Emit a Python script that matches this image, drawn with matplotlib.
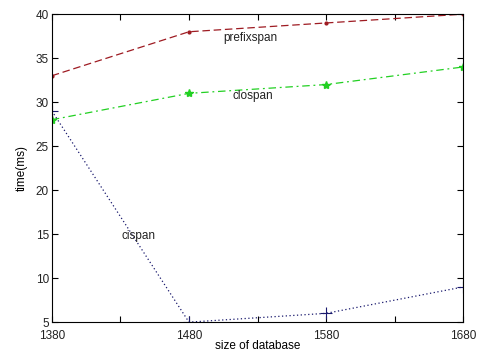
import matplotlib
matplotlib.use("Agg")
import matplotlib.pyplot as plt

# data
sizes = [1380, 1480, 1580, 1680]
prefixspan = [33, 38, 39, 40]
clospan = [28, 31, 32, 34]
cispan = [29, 5, 6, 9]

xticks = [1380, 1430, 1480, 1530, 1580, 1630, 1680]
xticklabels = ['1380', '', '1480', '', '1580', '', '1680']
yticks = [5, 10, 15, 20, 25, 30, 35, 40]

plt.rcParams['font.family'] = ['Liberation Sans', 'DejaVu Sans']
plt.rcParams['font.size'] = 8.5
plt.rcParams['text.color'] = '#222222'

fig = plt.figure(figsize=(4.8, 3.54), dpi=100)
ax = fig.add_axes([0.108, 0.090, 0.857, 0.870])

ax.plot(sizes, prefixspan, color='#9e1b22', linestyle=(0, (6, 3)), linewidth=0.9,
        marker='.', markersize=4)
ax.plot(sizes, clospan, color='#22d022', linestyle=(0, (6, 3, 1.5, 3)), linewidth=0.9,
        marker='*', markersize=6)
ax.plot(sizes, cispan, color='#1a1a6e', linestyle=(0, (1, 2)), linewidth=0.9,
        marker='+', markersize=8, markeredgewidth=0.8)

ax.text(1505, 37.0, 'prefixspan')
ax.text(1512, 30.4, 'clospan')
ax.text(1431, 14.4, 'cispan')

ax.set_xlim(1380, 1680)
ax.set_ylim(5, 40)
ax.set_xticks(xticks)
ax.set_xticklabels(xticklabels)
ax.set_yticks(yticks)
ax.tick_params(direction='in', length=4, width=0.8, top=True, right=True, pad=2,
               labelcolor='#222222')
ax.tick_params(axis='x', pad=5.5)
# nudge the lowest y label up a little so it clears the first x label
ax.get_yticklabels()[0].set_verticalalignment('center_baseline')
for s in ax.spines.values():
    s.set_linewidth(0.8)

ax.set_xlabel('size of database', labelpad=-1)
ax.set_ylabel('time(ms)', labelpad=6)

fig.savefig('out.png', dpi=100)
